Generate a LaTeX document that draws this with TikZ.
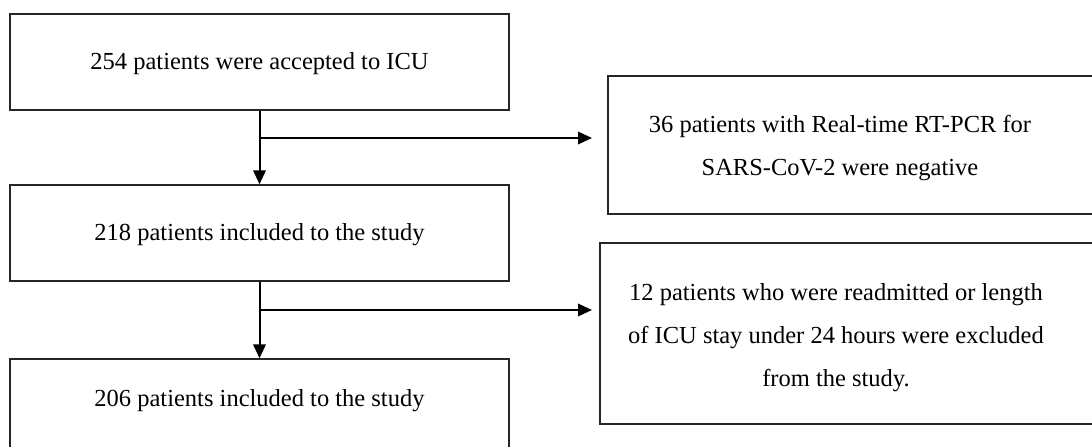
\documentclass[tikz,border=0pt]{standalone}
\usepackage{fontspec}
\setmainfont{Liberation Serif}
\usetikzlibrary{arrows.meta}
\tikzset{
  box/.style={draw=black!85, line width=1.4bp, inner sep=0pt},
  txt/.style={align=center, inner sep=0pt, font=\fontsize{24.5bp}{43bp}\selectfont},
  flow/.style={line width=2bp, -{Triangle[length=14bp,width=12.5bp]}},
  plain/.style={line width=2bp}
}
\begin{document}
\begin{tikzpicture}[x=1bp,y=-1bp]
\useasboundingbox (0,0) rectangle (1092,447);
\clip (0,0) rectangle (1092,447);
% left column boxes
\node[box, minimum width=499bp, minimum height=96bp] (b1) at (259.5,62) {};
\node[txt] (t1) at (259.5,64) {254 patients were accepted to ICU};
\node[box, minimum width=499bp, minimum height=96bp] (b2) at (259.5,233) {};
\node[txt] (t2) at (259.5,235) {218 patients included to the study};
\node[box, minimum width=499bp, minimum height=96bp] (b3) at (259.5,407) {};
\node[txt] (t3) at (259.5,401) {206 patients included to the study};
% right column boxes
\node[box, minimum width=500bp, minimum height=138bp] (ba) at (858,145) {};
\node[txt] (ta) at (840,148) {36 patients with Real-time RT-PCR for\\SARS-CoV-2 were negative};
\node[box, minimum width=508bp, minimum height=181bp] (bb) at (854,333.5) {};
\node[txt] (tb) at (836,338) {12 patients who were readmitted or length\\of ICU stay under 24 hours were excluded\\from the study.};
% connectors
\coordinate (j1) at (b1.south |- 0,138);
\coordinate (e1) at (592,138);
\coordinate (j2) at (b2.south |- 0,310);
\coordinate (e2) at (592,310);
\draw[flow] (b1.south) -- (b2.north);
\draw[flow] (j1) -- (e1);
\draw[flow] (b2.south) -- (b3.north);
\draw[flow] (j2) -- (e2);
\end{tikzpicture}
\end{document}
